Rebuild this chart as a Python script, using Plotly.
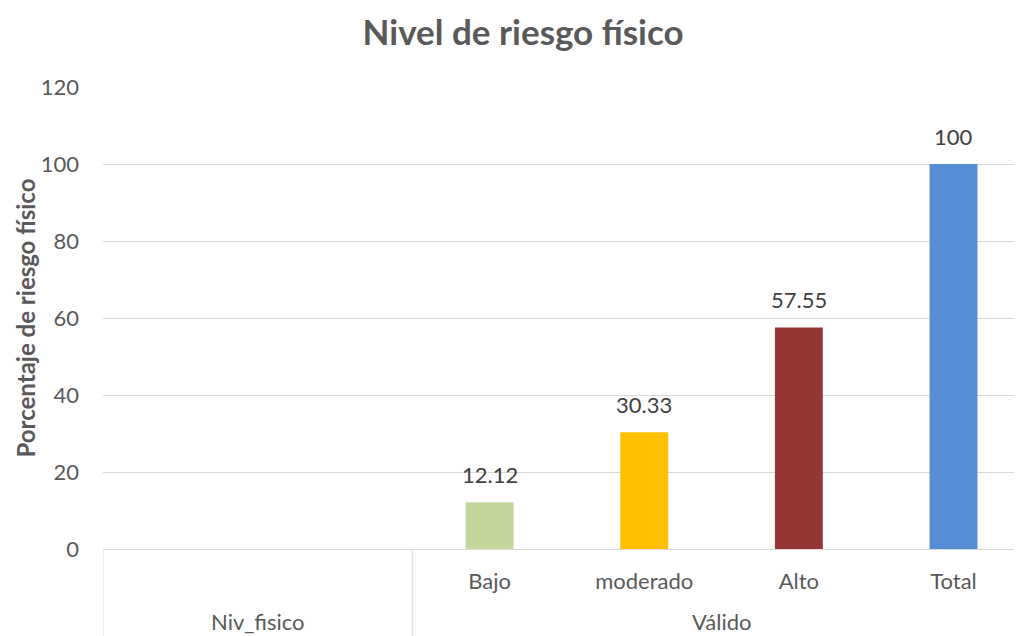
"""Nivel de riesgo físico - bar chart with two-level category axis."""

import plotly.graph_objects as go

# Data
groups = ["Niv_fisico", "Válido"]
group_spans = [(0, 1), (2, 5)]
categories = [" ", "  ", "Bajo", "moderado", "Alto", "Total"]
values = [None, None, 12.12, 30.33, 57.55, 100]
bar_colors = ["#FFFFFF", "#FFFFFF", "#C3D69B", "#FFC000", "#953735", "#558ED5"]
y_ticks = [0, 20, 40, 60, 80, 100, 120]

FONT = "Lato, 'Open Sans', sans-serif"
TEXT_GREY = "#595959"
GRID = "#D9D9D9"

fig = go.Figure()

fig.add_trace(
    go.Bar(
        x=categories,
        y=values,
        marker={"color": bar_colors, "line": {"width": 0}},
        width=0.31,
        hoverinfo="skip",
    )
)

# Data labels above the bars
for cat, val in zip(categories, values):
    if val is None:
        continue
    fig.add_annotation(
        x=cat,
        y=val,
        text=f"{val:g}",
        showarrow=False,
        yanchor="bottom",
        yshift=12,
        font={"family": FONT, "size": 22, "color": "#404040"},
    )

# Group labels and dividers on the category axis
for name, (start, end) in zip(groups, group_spans):
    fig.add_annotation(
        x=(start + end) / 2,
        xref="x",
        y=-0.158,
        yref="paper",
        text=name,
        showarrow=False,
        yanchor="middle",
        font={"family": FONT, "size": 22, "color": TEXT_GREY},
    )
    fig.add_shape(
        type="line",
        xref="x",
        yref="paper",
        x0=start - 0.5,
        x1=start - 0.5,
        y0=0,
        y1=-0.2,
        line={"color": GRID, "width": 1},
    )

# Y-axis title
fig.add_annotation(
    x=0,
    xref="paper",
    xshift=-95,
    y=0.5,
    yref="paper",
    text="<b>Porcentaje de riesgo físico</b>",
    textangle=-90,
    showarrow=False,
    font={"family": FONT, "size": 24, "color": TEXT_GREY},
)

# the page body adds an 8px margin, so the figure is laid out 8px up/left
fig.update_layout(
    width=1022,
    height=636,
    margin={"l": 95, "r": 10, "t": 79, "b": 95},
    paper_bgcolor="white",
    plot_bgcolor="white",
    showlegend=False,
    title={
        "text": "<b>Nivel de riesgo físico</b>",
        "x": 0.504,
        "xanchor": "center",
        "y": 0.961,
        "yanchor": "middle",
        "font": {"family": FONT, "size": 35, "color": TEXT_GREY},
    },
    xaxis={
        "type": "category",
        "categoryorder": "array",
        "categoryarray": categories,
        "range": [-0.5, 5.43],
        "automargin": False,
        "showgrid": False,
        "showline": True,
        "linecolor": GRID,
        "linewidth": 1,
        "ticks": "",
        "ticklabelstandoff": 13,
        "tickfont": {"family": FONT, "size": 22, "color": TEXT_GREY},
        "fixedrange": True,
    },
    yaxis={
        "range": [0, 120],
        "tickvals": y_ticks,
        "automargin": False,
        "showgrid": True,
        "gridcolor": GRID,
        "gridwidth": 1,
        "zeroline": False,
        "showline": False,
        "ticks": "",
        "ticklabelstandoff": 23,
        "tickfont": {"family": FONT, "size": 22, "color": TEXT_GREY},
        "fixedrange": True,
    },
)

fig.write_html("out.html")
